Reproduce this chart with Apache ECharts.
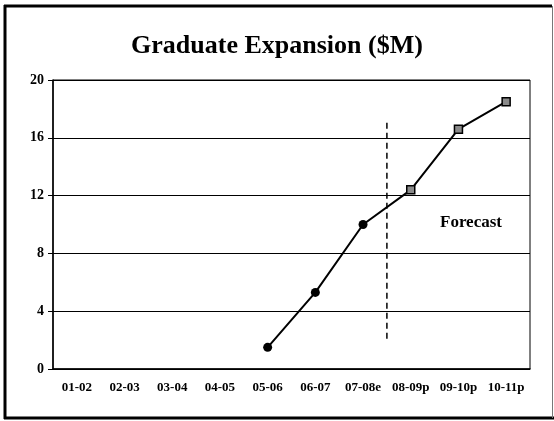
<!DOCTYPE html>
<html>
<head>
<meta charset="utf-8">
<title>Graduate Expansion</title>
<script src="https://cdn.jsdelivr.net/npm/echarts@6/dist/echarts.min.js"></script>
<style>
    html, body { margin: 0; padding: 0; background: #fff; }
    #chart { width: 554px; height: 421px; }
</style>
</head>
<body>
<div id="chart"></div>
<script>
// fiscal years along the bottom
var years = ['01-02', '02-03', '03-04', '04-05', '05-06', '06-07', '07-08e', '08-09p', '09-10p', '10-11p'];
// spending in $M, nothing plotted before 05-06
var spend = [null, null, null, null, 1.5, 5.3, 10.0, 12.4, 16.6, 18.5];
// index of the first projected year
var forecastFrom = 7;
// dashed divider: position on the category scale, then bottom and top value
var dividerX = [7, 7];
var dividerY = [2.1, 17.2];
var yTicks = [0, 4, 8, 12, 16, 20];

var serif = '"Liberation Serif", "DejaVu Serif", serif';

// actual years get round dots, projected years get small boxes
var points = spend.map(function (v, i) {
    if (i >= forecastFrom) {
        return { value: v, symbol: 'rect', symbolSize: 8,
                 itemStyle: { color: '#8a8a8a', borderColor: '#000', borderWidth: 1.5 } };
    }
    return { value: v, symbol: 'circle', symbolSize: 9,
             itemStyle: { color: '#000', borderColor: '#000', borderWidth: 0 } };
});

var chart = echarts.init(document.getElementById('chart'));

var option = {
    backgroundColor: '#fff',
    animation: false,
    title: {
        text: 'Graduate Expansion ($M)',
        left: 'center',
        top: 28,
        textStyle: { fontFamily: serif, fontSize: 26, fontWeight: 'bold', color: '#000' }
    },
    grid: {
        left: 53, right: 24, top: 80, bottom: 52,
        show: true, borderColor: '#000', borderWidth: 1, backgroundColor: 'transparent'
    },
    xAxis: [
        {
            type: 'category',
            data: years,
            boundaryGap: true,
            axisLine: { lineStyle: { color: '#000', width: 1.5 } },
            axisTick: { length: 4, lineStyle: { color: '#000', width: 1.5 } },
            axisLabel: { fontFamily: serif, fontSize: 13, fontWeight: 'bold', color: '#000', margin: 12, interval: 0 }
        },
        {
            // same scale again, only to draw the tick half that sits above the axis
            type: 'category',
            data: years,
            position: 'bottom',
            boundaryGap: true,
            axisLine: { show: false },
            axisTick: { inside: true, length: 4, lineStyle: { color: '#000', width: 1.5 } },
            axisLabel: { show: false }
        },
        {
            // hidden 0..10 scale for placing the forecast divider on a category edge
            type: 'value',
            min: 0, max: years.length,
            show: false
        }
    ],
    yAxis: {
        type: 'value',
        min: yTicks[0],
        max: yTicks[yTicks.length - 1],
        interval: 4,
        axisLine: { show: true, lineStyle: { color: '#000', width: 1.5 } },
        axisTick: { show: true, length: 5, lineStyle: { color: '#000', width: 1 } },
        axisLabel: { fontFamily: serif, fontSize: 14, fontWeight: 'bold', color: '#000', margin: 9 },
        splitLine: { lineStyle: { color: '#000', width: 1 } }
    },
    series: [
        {
            name: 'Graduate Expansion',
            type: 'line',
            xAxisIndex: 0,
            data: points,
            lineStyle: { color: '#000', width: 2 },
            z: 5
        },
        {
            name: 'divider',
            type: 'line',
            xAxisIndex: 2,
            data: [[dividerX[0], dividerY[0]], [dividerX[1], dividerY[1]]],
            symbol: 'none',
            lineStyle: { color: '#000', width: 1.5, type: [6, 4] },
            z: 4
        }
    ],
    graphic: [
        {
            type: 'text',
            left: 440, top: 214,
            style: { text: 'Forecast', font: 'bold 17px ' + serif, fill: '#000' }
        },
        // frame around the whole slide
        { type: 'line', shape: { x1: 4, y1: 6, x2: 552, y2: 6 }, style: { stroke: '#000', lineWidth: 3 } },
        { type: 'line', shape: { x1: 5, y1: 5, x2: 5, y2: 419 }, style: { stroke: '#000', lineWidth: 3 } },
        { type: 'line', shape: { x1: 4, y1: 418, x2: 554, y2: 418 }, style: { stroke: '#000', lineWidth: 3 } },
        { type: 'line', shape: { x1: 552.5, y1: 6, x2: 552.5, y2: 418 }, style: { stroke: '#777', lineWidth: 1 } }
    ]
};

chart.setOption(option);
</script>
</body>
</html>
